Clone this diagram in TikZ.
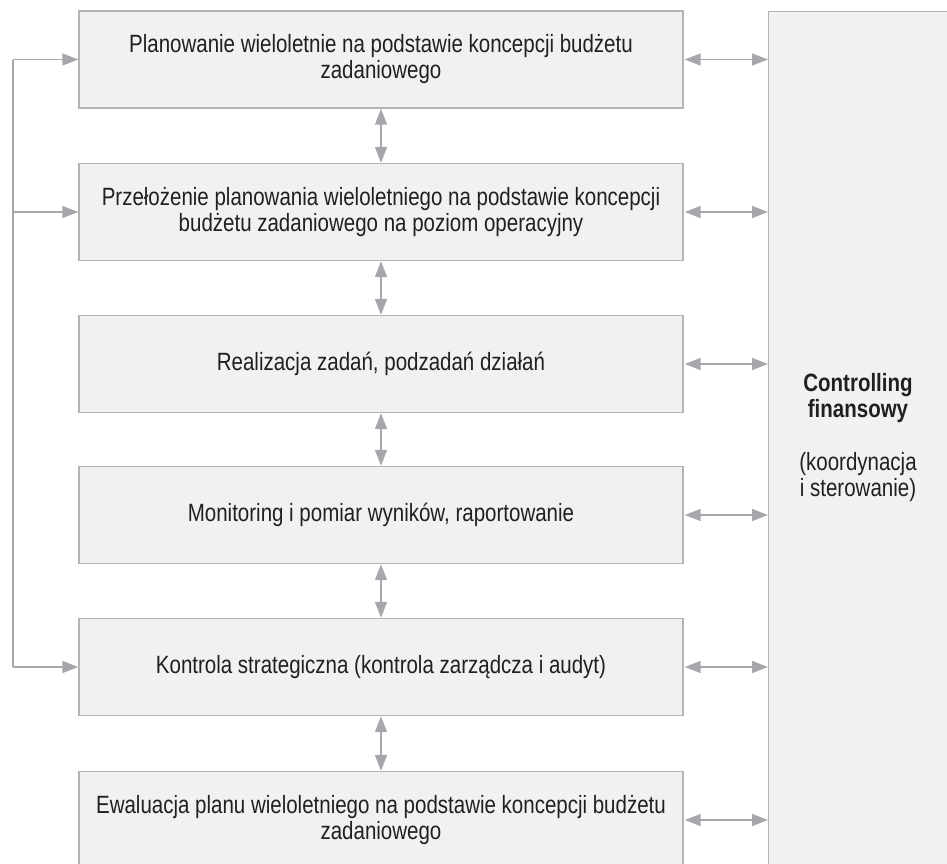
\documentclass[tikz,border=0pt]{standalone}
\usepackage{fontspec}
\setmainfont{Liberation Sans}[FakeStretch=0.82]
\usetikzlibrary{arrows.meta}
\definecolor{boxfill}{HTML}{F0F1F3}
\definecolor{boxline}{HTML}{B3B4B7}
\definecolor{arrgray}{HTML}{A6A7AB}
\definecolor{txt}{HTML}{231F20}
\begin{document}
\begin{tikzpicture}[x=1pt,y=-1pt,
  stepbox/.style={draw=boxline,fill=boxfill,line width=1.4pt,minimum width=604pt,minimum height=97pt,inner sep=0pt,align=center,font=\fontsize{25}{26}\selectfont,text=txt},
  link/.style={draw=arrgray,line width=1.5pt},
  tip/.style={-{Triangle[length=16pt,width=12pt]}},
  dtip/.style={{Triangle[length=16pt,width=12pt]}-{Triangle[length=16pt,width=12pt]}}]
\useasboundingbox (0,0) rectangle (947,863);
\begin{scope}
\clip (0,0) rectangle (947,863);
\node[stepbox] (b1) at (381,59.5) {Planowanie wieloletnie na podstawie koncepcji budżetu\\zadaniowego};
\node[stepbox] (b2) at (381,212) {Przełożenie planowania wieloletniego na podstawie koncepcji\\budżetu zadaniowego na poziom operacyjny};
\node[stepbox] (b3) at (381,364) {Realizacja zadań, podzadań działań};
\node[stepbox] (b4) at (381,515) {Monitoring i pomiar wyników, raportowanie};
\node[stepbox] (b5) at (381,667) {Kontrola strategiczna (kontrola zarządcza i audyt)};
\node[stepbox] (b6) at (381,820) {Ewaluacja planu wieloletniego na podstawie koncepcji budżetu\\zadaniowego};
\node[draw=boxline,fill=boxfill,line width=1.4pt,minimum width=180pt,minimum height=880pt,inner sep=0pt,anchor=north west] (cf) at (768,11) {};
\node[align=center,text=txt,font=\fontsize{25}{26}\selectfont\bfseries] (cft) at (858,398) {Controlling\\finansowy};
\node[align=center,text=txt,font=\fontsize{25}{26}\selectfont] (cfs) at (858,477) {(koordynacja\\i sterowanie)};
\foreach \a/\b in {b1/b2,b2/b3,b3/b4,b4/b5,b5/b6}{
  \draw[link,dtip] (\a.south) -- (\b.north);
}
\foreach \a in {b1,b2,b3,b4,b5,b6}{
  \draw[link,dtip] ([xshift=1pt]\a.east) -- (cf.west |- \a.east);
}
\coordinate (Lt) at (13,59.5);
\coordinate (Lb) at (13,667);
\draw[link] (Lt) -- (Lb);
\draw[link,tip] (Lt) -- (b1.west);
\draw[link,tip] (Lt |- b2.west) -- (b2.west);
\draw[link,tip] (Lb) -- (b5.west);
\end{scope}
\end{tikzpicture}
\end{document}
